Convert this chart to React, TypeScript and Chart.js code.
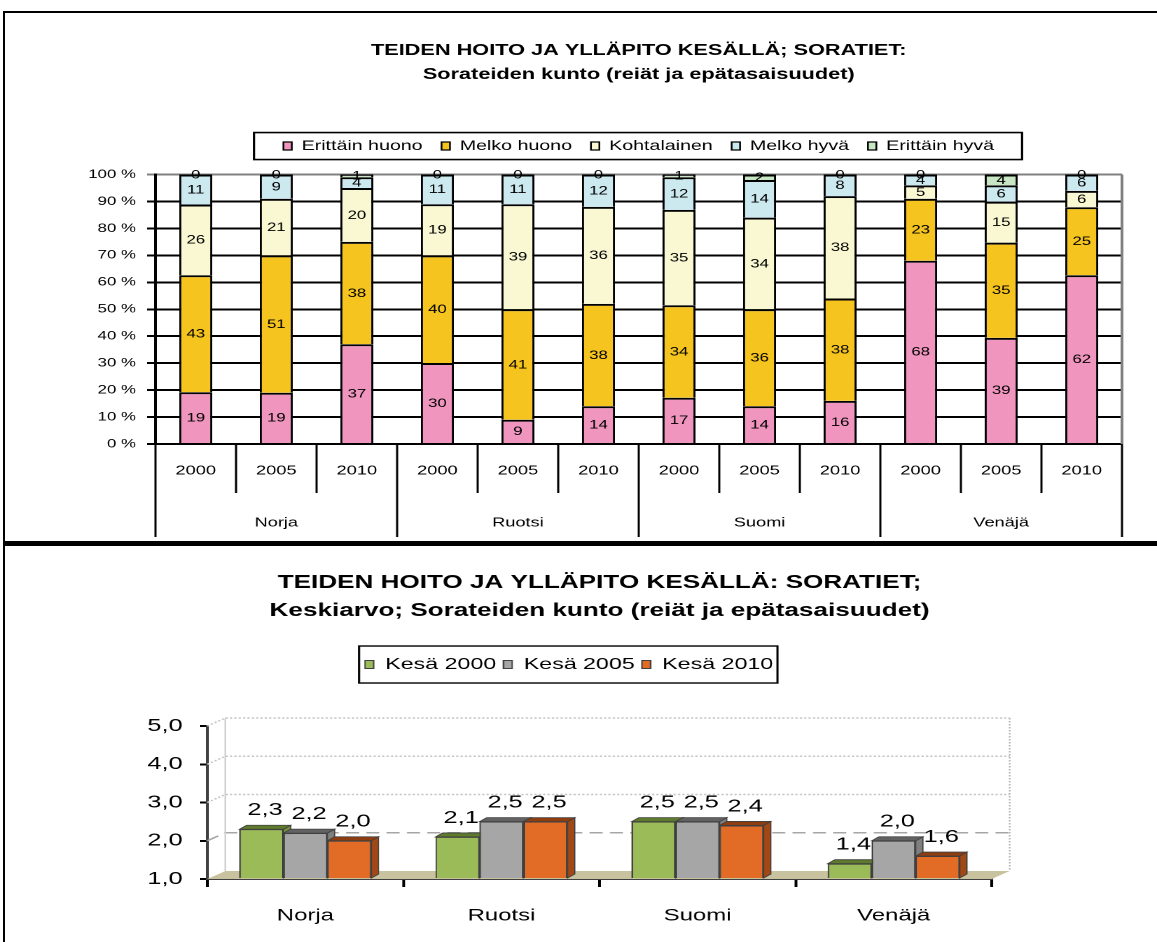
import React, { useEffect, useRef } from 'react';
import { Chart, registerables } from 'chart.js';

Chart.register(...registerables);

const FONT = "'Liberation Sans', Arial, Helvetica, sans-serif";

// ---------- Top chart data ----------
const countries = ['Norja', 'Ruotsi', 'Suomi', 'Venäjä'];
const years = ['2000', '2005', '2010'];
const conditionLabels = ['Erittäin huono', 'Melko huono', 'Kohtalainen', 'Melko hyvä', 'Erittäin hyvä'];
// columns: Norja 2000/2005/2010, Ruotsi 2000/2005/2010, Suomi ..., Venäjä ...
const erittainHuono = [19, 19, 37, 30, 9, 14, 17, 14, 16, 68, 39, 62];
const melkoHuono = [43, 51, 38, 40, 41, 38, 34, 36, 38, 23, 35, 25];
const kohtalainen = [26, 21, 20, 19, 39, 36, 35, 34, 38, 5, 15, 6];
const melkoHyva = [11, 9, 4, 11, 11, 12, 12, 14, 8, 4, 6, 6];
const erittainHyva = [0, 0, 1, 0, 0, 0, 1, 2, 0, 0, 4, 0];
const percentTitle = ['TEIDEN HOITO JA YLLÄPITO KESÄLLÄ; SORATIET:', 'Sorateiden kunto (reiät ja epätasaisuudet)'];

// ---------- Bottom chart data ----------
const summerLabels = ['Kesä 2000', 'Kesä 2005', 'Kesä 2010'];
const kesa2000 = [2.3, 2.1, 2.5, 1.4];
const kesa2005 = [2.2, 2.5, 2.5, 2.0];
const kesa2010 = [2.0, 2.5, 2.4, 1.6];
const meanTitle = ['TEIDEN HOITO JA YLLÄPITO KESÄLLÄ: SORATIET;', 'Keskiarvo; Sorateiden kunto (reiät ja epätasaisuudet)'];

// ---------- styles ----------
const topColors = ['#F096BE', '#F5C41E', '#FAF8D2', '#CDE9F0', '#C8E6C3'];
const botColors = ['#9BBB59', '#A6A6A6', '#E26C26'];
const botSide = ['#76923C', '#7F7F7F', '#A24816'];
const botTop = ['#5E7A2C', '#626262', '#8E3D10'];

const TOP_SX = 1.4;
const TOP_W = Math.round(1157 / TOP_SX);
const TOP_H = 541;
const BOT_SX = 1.45;
const BOT_W = Math.round(1157 / BOT_SX);
const BOT_H = 399;

const topSeries = [erittainHuono, melkoHuono, kohtalainen, melkoHyva, erittainHyva];
const xLabels = countries.flatMap((c) => years.map((y) => `${c} ${y}`));
const columnTotals = xLabels.map((_, i) => topSeries.reduce((s, arr) => s + arr[i], 0));
const bottomSeries = [kesa2000, kesa2005, kesa2010];

function legendFrame(id: string, ml: number, mr: number, my: number, lw: number) {
  return {
    id,
    afterDraw(chart: any) {
      const lg = chart.legend;
      if (!lg || !lg.legendHitBoxes || !lg.legendHitBoxes.length) return;
      const hb = lg.legendHitBoxes;
      const l = Math.min(...hb.map((h: any) => h.left)) - ml;
      const r = Math.max(...hb.map((h: any) => h.left + h.width)) + mr;
      const t = Math.min(...hb.map((h: any) => h.top)) - my;
      const b = Math.max(...hb.map((h: any) => h.top + h.height)) + my;
      const ctx = chart.ctx;
      ctx.save();
      ctx.strokeStyle = '#000';
      ctx.lineWidth = lw;
      ctx.strokeRect(l, t, r - l, b - t);
      ctx.restore();
    },
  };
}

const topLabelsPlugin = {
  id: 'topLabels',
  afterDatasetsDraw(chart: any) {
    const ctx = chart.ctx;
    ctx.save();
    ctx.fillStyle = '#000';
    ctx.font = `12px ${FONT}`;
    ctx.textAlign = 'center';
    ctx.textBaseline = 'middle';
    topSeries.forEach((vals, d) => {
      const meta = chart.getDatasetMeta(d);
      meta.data.forEach((el: any, i: number) => {
        const { x, y, base } = el.getProps(['x', 'y', 'base'], true);
        ctx.fillText(String(vals[i]), x, (y + base) / 2 + 0.5);
      });
    });
    ctx.restore();
  },
};

const topAxisPlugin = {
  id: 'topAxis',
  afterDraw(chart: any) {
    const { ctx, chartArea } = chart;
    const xs = chart.scales.x;
    const n = xLabels.length;
    const step = (xs.right - xs.left) / n;
    const b = chartArea.bottom;
    ctx.save();
    // plot area right border
    ctx.strokeStyle = '#808080';
    ctx.lineWidth = 2;
    ctx.beginPath();
    ctx.moveTo(chartArea.right, chartArea.top);
    ctx.lineTo(chartArea.right, b);
    ctx.stroke();
    // separators
    ctx.strokeStyle = '#000';
    ctx.lineWidth = 1.5;
    for (let i = 0; i <= n; i++) {
      const bx = xs.left + i * step;
      const long = i % years.length === 0;
      ctx.beginPath();
      ctx.moveTo(bx, b);
      ctx.lineTo(bx, b + (long ? 93 : 49));
      ctx.stroke();
    }
    ctx.fillStyle = '#000';
    ctx.font = `13px ${FONT}`;
    ctx.textAlign = 'center';
    ctx.textBaseline = 'middle';
    for (let i = 0; i < n; i++) {
      ctx.fillText(years[i % years.length], xs.getPixelForValue(i), b + 27);
    }
    countries.forEach((c, k) => {
      const a = xs.getPixelForValue(k * years.length);
      const z = xs.getPixelForValue(k * years.length + years.length - 1);
      ctx.fillText(c, (a + z) / 2, b + 79);
    });
    ctx.restore();
  },
};

const DX = 12.4;
const DY = -8;
const BDX = 5;
const BDY = -4;

function poly(ctx: CanvasRenderingContext2D, pts: number[][], fill: string, stroke: string) {
  ctx.beginPath();
  ctx.moveTo(pts[0][0], pts[0][1]);
  for (let i = 1; i < pts.length; i++) ctx.lineTo(pts[i][0], pts[i][1]);
  ctx.closePath();
  ctx.fillStyle = fill;
  ctx.fill();
  ctx.strokeStyle = stroke;
  ctx.stroke();
}

const bar3dPlugin = {
  id: 'bar3d',
  beforeDatasetsDraw(chart: any) {
    const { ctx, chartArea } = chart;
    const { left: L, right: R, top: T, bottom: B } = chartArea;
    const ys = chart.scales.y;
    ctx.save();
    ctx.fillStyle = '#C9C29E';
    ctx.beginPath();
    ctx.moveTo(L, B);
    ctx.lineTo(R, B);
    ctx.lineTo(R + DX, B + DY);
    ctx.lineTo(L + DX, B + DY);
    ctx.closePath();
    ctx.fill();
    ys.ticks.forEach((t: any) => {
      if (t.value === ys.min) return;
      const y = ys.getPixelForValue(t.value);
      const dashed = t.value === 2;
      ctx.setLineDash(dashed ? [9, 5] : [1.5, 1.5]);
      ctx.strokeStyle = dashed ? '#A6A6A6' : '#C4C4C4';
      ctx.lineWidth = 1.5;
      ctx.beginPath();
      ctx.moveTo(L, y);
      ctx.lineTo(L + DX, y + DY);
      ctx.lineTo(R + DX, y + DY);
      ctx.stroke();
    });
    ctx.setLineDash([]);
    ctx.strokeStyle = '#CFCFCF';
    ctx.lineWidth = 1.2;
    ctx.beginPath();
    ctx.moveTo(L + DX, T + DY);
    ctx.lineTo(L + DX, B + DY);
    ctx.stroke();
    ctx.setLineDash([1.5, 1.5]);
    ctx.strokeStyle = '#B8B8B8';
    ctx.beginPath();
    ctx.moveTo(R + DX, T + DY);
    ctx.lineTo(R + DX, B + DY);
    ctx.stroke();
    ctx.setLineDash([]);
    ctx.restore();
  },
  afterDatasetsDraw(chart: any) {
    const ctx = chart.ctx;
    const n = chart.data.labels.length;
    ctx.save();
    ctx.lineWidth = 0.8;
    for (let i = 0; i < n; i++) {
      bottomSeries.forEach((_, d) => {
        const el = chart.getDatasetMeta(d).data[i];
        const { x, y, base, width } = el.getProps(['x', 'y', 'base', 'width'], true);
        const l = x - width / 2;
        const r = x + width / 2;
        poly(ctx, [[r, y], [r + BDX, y + BDY], [r + BDX, base + BDY], [r, base]], botSide[d], '#404040');
        poly(ctx, [[l, y], [l + BDX, y + BDY], [r + BDX, y + BDY], [r, y]], botTop[d], '#404040');
        el.draw(ctx);
      });
    }
    ctx.fillStyle = '#000';
    ctx.font = `17.5px ${FONT}`;
    ctx.textAlign = 'center';
    ctx.textBaseline = 'middle';
    bottomSeries.forEach((vals, d) => {
      chart.getDatasetMeta(d).data.forEach((el: any, i: number) => {
        const { x, y } = el.getProps(['x', 'y'], true);
        ctx.fillText(vals[i].toFixed(1).replace('.', ','), x + 2.5, y - 19);
      });
    });
    ctx.restore();
  },
};

function topConfig(): any {
  return {
    type: 'bar',
    data: {
      labels: xLabels,
      datasets: topSeries.map((vals, k) => ({
        label: conditionLabels[k],
        data: vals.map((v, i) => (v / columnTotals[i]) * 100),
        backgroundColor: topColors[k],
        borderColor: '#000',
        borderWidth: { top: 2, left: 1.5, right: 1.5, bottom: 0 },
        borderSkipped: false,
        barPercentage: 0.41,
        categoryPercentage: 1,
      })),
    },
    options: {
      responsive: false,
      animation: false,
      devicePixelRatio: 2,
      layout: { padding: { left: 63, right: 25, top: 22.5, bottom: 97 } },
      plugins: {
        title: {
          display: true,
          fullSize: false,
          text: percentTitle,
          color: '#000',
          font: { family: FONT, size: 15.5, weight: 'bold', lineHeight: 1.55 },
          padding: { top: 16, bottom: 39 },
        },
        subtitle: {
          display: true,
          text: '',
          weight: 500,
          fullSize: false,
          font: { family: FONT, size: 1, lineHeight: 1 },
          padding: { top: 10.5, bottom: 0 },
        },
        legend: {
          display: true,
          fullSize: false,
          position: 'top',
          labels: { color: '#000', font: { family: FONT, size: 14 }, boxWidth: 6, boxHeight: 8, padding: 13.5 },
        },
        tooltip: { enabled: false },
      },
      scales: {
        x: { display: false, stacked: true, offset: true },
        y: {
          stacked: true,
          min: 0,
          max: 100,
          ticks: {
            stepSize: 10,
            color: '#000',
            font: { family: FONT, size: 12 },
            padding: 8,
            callback: (v: any) => `${v} %`,
          },
          grid: {
            color: (c: any) => (c.tick && c.tick.value === 100 ? '#808080' : '#000'),
            lineWidth: 2,
            tickLength: 6,
          },
          border: { display: true, color: '#000', width: 2 },
          afterFit: (s: any) => {
            s.width = 48;
          },
        },
      },
    },
    plugins: [topLabelsPlugin, topAxisPlugin, legendFrame('topLegendFrame', 21, 20, 6.5, 1.6)],
  };
}

function bottomConfig(): any {
  return {
    type: 'bar',
    data: {
      labels: countries,
      datasets: bottomSeries.map((vals, d) => ({
        label: summerLabels[d],
        data: vals,
        base: 1,
        backgroundColor: botColors[d],
        borderColor: '#404040',
        borderWidth: 1,
        categoryPercentage: 0.673,
        barPercentage: 1,
      })),
    },
    options: {
      responsive: false,
      animation: false,
      devicePixelRatio: 2,
      layout: { padding: { left: 101, right: 114, top: 10, bottom: 14 } },
      plugins: {
        title: {
          display: true,
          fullSize: false,
          text: meanTitle,
          color: '#000',
          font: { family: FONT, size: 18, weight: 'bold', lineHeight: 1.556 },
          padding: { top: 16, bottom: 26.5 },
        },
        subtitle: {
          display: true,
          text: '',
          weight: 500,
          font: { family: FONT, size: 1, lineHeight: 1 },
          padding: { top: 42.5, bottom: 0 },
        },
        legend: {
          display: true,
          fullSize: true,
          position: 'top',
          labels: { color: '#000', font: { family: FONT, size: 16 }, boxWidth: 6, boxHeight: 8, padding: 5 },
        },
        tooltip: { enabled: false },
      },
      scales: {
        x: {
          grid: { display: true, drawOnChartArea: false, offset: true, tickLength: 8, color: '#000', lineWidth: 2 },
          border: { display: true, color: '#404040', width: 2, dash: [2, 2] },
          ticks: { color: '#000', font: { family: FONT, size: 16.5 }, padding: 19 },
          afterFit: (s: any) => {
            s.height = 49;
          },
        },
        y: {
          min: 1,
          max: 5,
          beginAtZero: false,
          ticks: {
            stepSize: 1,
            color: '#000',
            font: { family: FONT, size: 17.5 },
            padding: 12,
            callback: (v: any) => Number(v).toFixed(1).replace('.', ','),
          },
          grid: { drawOnChartArea: false, tickLength: 5, color: '#000', lineWidth: 2 },
          border: { display: true, color: '#404040', width: 2, dash: [2, 2] },
          afterFit: (s: any) => {
            s.width = 42;
          },
        },
      },
    },
    plugins: [bar3dPlugin, legendFrame('botLegendFrame', 4, 3, 10.5, 1.4)],
  };
}

export default function App() {
  const topRef = useRef<HTMLCanvasElement>(null);
  const botRef = useRef<HTMLCanvasElement>(null);

  useEffect(() => {
    const top = new Chart(topRef.current as HTMLCanvasElement, topConfig());
    const bot = new Chart(botRef.current as HTMLCanvasElement, bottomConfig());
    return () => {
      top.destroy();
      bot.destroy();
    };
  }, []);

  return (
    <div style={{ position: 'absolute', left: 0, top: 0, width: 1157, height: 942, overflow: 'hidden', background: '#fff' }}>
      <canvas
        ref={topRef}
        width={TOP_W}
        height={TOP_H}
        style={{ position: 'absolute', left: 0, top: 0, width: '1157px', height: `${TOP_H}px` }}
      />
      <canvas
        ref={botRef}
        width={BOT_W}
        height={BOT_H}
        style={{ position: 'absolute', left: 0, top: 543, width: '1157px', height: `${BOT_H}px` }}
      />
      <div
        style={{
          position: 'absolute',
          left: 3,
          top: 11,
          width: 1170,
          height: 528,
          border: '2px solid #000',
          pointerEvents: 'none',
        }}
      />
      <div
        style={{
          position: 'absolute',
          left: 3,
          top: 543,
          width: 1170,
          height: 420,
          borderTop: '3px solid #000',
          borderLeft: '2px solid #000',
          pointerEvents: 'none',
        }}
      />
    </div>
  );
}
